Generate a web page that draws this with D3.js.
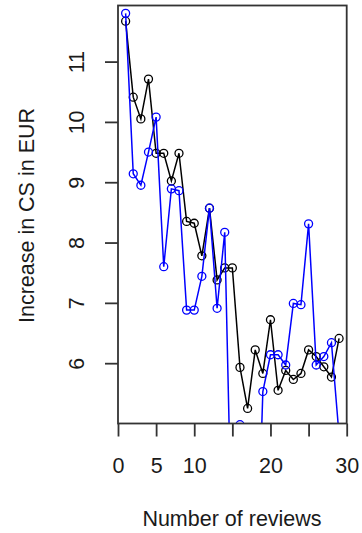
<!DOCTYPE html>
<meta charset="utf-8">
<style>
  body { margin: 0; background: #fff; }
  text { font-family: "Liberation Sans", Arial, sans-serif; fill: #1a1a1a; }
</style>
<body>
<script src="https://d3js.org/d3.v7.min.js"></script>
<script>
  // data
  const reviews = [1, 2, 3, 4, 5, 6, 7, 8, 9, 10, 11, 12, 13, 14, 15, 16, 17, 18, 19, 20, 21, 22, 23, 24, 25, 26, 27, 28, 29];
  const csBlack = [11.67, 10.41, 10.05, 10.71, 9.48, 9.48, 9.02, 9.48, 8.35, 8.32, 7.78, 8.57, 7.38, 7.58, 7.58,
                   5.93, 5.25, 6.22, 5.83, 6.72, 5.55, 5.88, 5.73, 5.83, 6.22, 6.11, 5.94, 5.77, 6.41];
  const csBlue = [11.80, 9.14, 8.95, 9.50, 10.08, 7.60, 8.89, 8.86, 6.88, 6.88, 7.44, 8.57, 6.91, 8.17, 2.6,
                  4.98, 2.0, 1.5, 5.53, 6.14, 6.14, 5.97, 6.99, 6.97, 8.31, 5.97, 6.11, 6.34, 4.80];
  const xTicks = [0, 5, 10, 15, 20, 25, 30];
  const xTickLabels = ["0", "5", "10", "", "20", "", "30"];
  const yTicks = [6, 7, 8, 9, 10, 11];

  const width = 362, height = 533;
  const mLeft = 118, mRight = 346.7, mTop = 5.5, mBottom = 423.5;

  let svg = d3.select("body").append("svg")
      .attr("width", width)
      .attr("height", height);

  let x = d3.scaleLinear().domain([0, 30]).range([mLeft, mRight]);
  let y = d3.scaleLinear().domain([5, 11.93]).range([mBottom, mTop]);

  svg.append("clipPath").attr("id", "plotclip")
    .append("rect")
      .attr("x", mLeft).attr("y", mTop)
      .attr("width", mRight - mLeft).attr("height", mBottom - mTop);

  let plot = svg.append("g").attr("clip-path", "url(#plotclip)");

  function drawSeries(vals, color) {
    let pts = reviews.map((r, i) => [r, vals[i]]);
    plot.append("path")
      .datum(pts)
      .attr("fill", "none")
      .attr("stroke", color)
      .attr("stroke-width", 1.5)
      .attr("d", d3.line().x(d => x(d[0])).y(d => y(d[1])));
    plot.selectAll(null)
      .data(pts)
      .join("circle")
      .attr("cx", d => x(d[0]))
      .attr("cy", d => y(d[1]))
      .attr("r", 4)
      .attr("fill", "none")
      .attr("stroke", color)
      .attr("stroke-width", 1.3);
  }
  drawSeries(csBlack, "#000000");
  drawSeries(csBlue, "#0000ff");

  // box
  svg.append("rect")
    .attr("x", mLeft).attr("y", mTop)
    .attr("width", mRight - mLeft).attr("height", mBottom - mTop)
    .attr("fill", "none")
    .attr("stroke", "#333")
    .attr("stroke-width", 1.8);

  // x axis
  let xAxis = svg.append("g")
    .attr("transform", "translate(0," + mBottom + ")")
    .call(d3.axisBottom(x).tickValues(xTicks).tickSize(13)
      .tickFormat((d, i) => xTickLabels[i]));
  xAxis.select(".domain").remove();
  xAxis.selectAll("line").attr("stroke", "#333").attr("stroke-width", 1.8);
  xAxis.selectAll("text")
    .attr("y", 49).attr("dy", 0)
    .style("font-size", "21.5px")
    .style("font-family", "'Liberation Sans', Arial, sans-serif")
    .attr("fill", "#1a1a1a");

  // y axis
  let yAxis = svg.append("g")
    .attr("transform", "translate(" + mLeft + ",0)")
    .call(d3.axisLeft(y).tickValues(yTicks).tickSize(13).tickFormat(d3.format("d")));
  yAxis.select(".domain").remove();
  yAxis.selectAll("line").attr("stroke", "#333").attr("stroke-width", 1.8);
  yAxis.selectAll("text")
    .attr("transform", "rotate(-90)")
    .attr("x", 0).attr("y", -34.5).attr("dy", 0)
    .attr("text-anchor", "middle")
    .style("font-size", "21.5px")
    .style("font-family", "'Liberation Sans', Arial, sans-serif")
    .attr("fill", "#1a1a1a");

  // axis titles
  svg.append("text")
    .attr("x", 232).attr("y", 526)
    .attr("text-anchor", "middle")
    .style("font-size", "21.5px")
    .text("Number of reviews");

  svg.append("text")
    .attr("transform", "translate(33.5,215.5) rotate(-90)")
    .attr("text-anchor", "middle")
    .style("font-size", "21.5px")
    .text("Increase in CS in EUR");
</script>
</body>
